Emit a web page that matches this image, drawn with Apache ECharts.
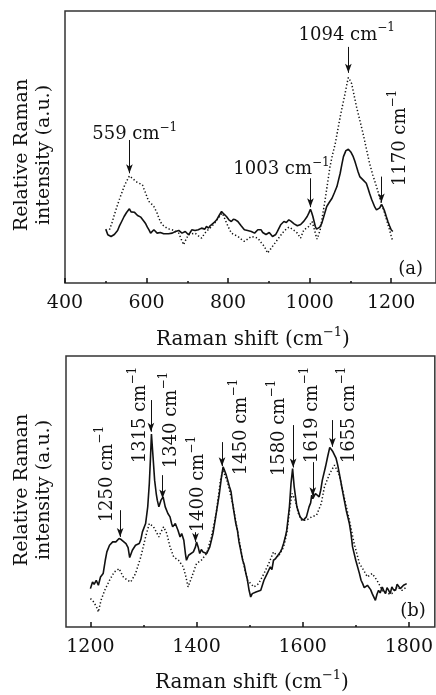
<!DOCTYPE html>
<html>
<head>
<meta charset="utf-8">
<script src="https://cdn.jsdelivr.net/npm/echarts@6/dist/echarts.min.js"></script>
<style>
  html, body { margin: 0; padding: 0; background: #fff; }
  #chart { width: 436px; height: 695px; }
</style>
</head>
<body>
<div id="chart"></div>
<script>
// ---- data (arbitrary intensity units) ----
// panel (a) 400-1300 cm-1
const aSolid = [[500,162],[505,145],[509,150],[513,140],[517,138],[521,146],[525,145],[529,158],[533,170],[539,185],[545,200],[551,212],[558,223],[562,214],[566,210],[570,213],[574,210],[578,203],[582,200],[586,198],[590,195],[594,185],[598,178],[602,168],[606,160],[610,150],[614,152],[618,160],[622,160],[626,150],[630,145],[634,152],[638,150],[642,148],[646,153],[654,148],[663,150],[671,155],[679,158],[687,150],[695,155],[699,150],[703,145],[707,152],[711,160],[719,158],[727,160],[735,165],[743,162],[747,170],[752,165],[756,172],[760,175],[766,182],[772,190],[778,203],[784,215],[790,207],[796,200],[802,190],[808,185],[813,192],[818,190],[824,185],[832,172],[840,160],[848,158],[857,155],[861,152],[865,150],[869,156],[873,160],[877,155],[881,160],[885,152],[889,150],[893,146],[897,145],[901,152],[905,150],[909,140],[913,138],[917,146],[921,155],[925,165],[929,175],[933,180],[937,185],[943,182],[949,190],[954,186],[958,182],[962,178],[966,175],[970,172],[974,170],[978,176],[982,180],[986,186],[990,190],[994,200],[998,210],[1002,222],[1005,212],[1008,200],[1011,185],[1014,170],[1017,162],[1020,158],[1025,168],[1030,180],[1036,205],[1042,230],[1048,242],[1055,255],[1061,272],[1067,290],[1071,310],[1075,330],[1079,356],[1083,380],[1089,398],[1095,402],[1101,394],[1107,380],[1111,366],[1115,350],[1119,334],[1123,320],[1127,314],[1131,310],[1135,306],[1139,300],[1143,286],[1147,270],[1152,252],[1156,240],[1160,228],[1164,220],[1168,222],[1172,226],[1176,236],[1180,228],[1184,216],[1188,200],[1192,185],[1196,172],[1200,160],[1204,155]];
const aDotted = [[509,160],[515,180],[521,205],[527,228],[533,250],[539,270],[545,290],[551,306],[558,322],[566,314],[574,305],[582,300],[590,295],[594,282],[598,270],[602,256],[606,245],[612,238],[618,230],[622,220],[626,210],[630,196],[634,185],[638,176],[642,170],[650,165],[656,162],[663,160],[671,155],[679,150],[685,132],[691,115],[697,132],[703,145],[711,148],[719,150],[727,142],[735,135],[743,150],[751,160],[760,170],[768,182],[776,195],[781,204],[786,210],[793,190],[800,170],[808,150],[816,145],[824,140],[832,132],[840,125],[848,132],[857,140],[865,138],[873,135],[881,122],[889,110],[893,100],[897,90],[903,100],[909,110],[915,120],[921,130],[927,140],[933,150],[939,158],[945,165],[950,168],[954,165],[962,158],[970,150],[974,142],[978,135],[982,148],[986,160],[992,165],[998,170],[1002,178],[1006,185],[1010,168],[1014,150],[1018,132],[1022,145],[1026,160],[1032,205],[1038,250],[1044,300],[1050,350],[1056,385],[1063,420],[1069,460],[1075,500],[1081,535],[1087,570],[1091,595],[1095,618],[1099,610],[1103,600],[1109,565],[1115,530],[1123,490],[1131,450],[1139,405],[1147,360],[1155,325],[1164,290],[1170,265],[1176,240],[1180,225],[1184,210],[1190,185],[1196,160],[1200,142],[1204,125]];

// panel (b) 1200-1800 cm-1
const bSolid = [[1200,115],[1204,135],[1207,128],[1211,140],[1215,125],[1219,150],[1224,160],[1228,200],[1231,225],[1236,245],[1242,255],[1245,250],[1248,255],[1254,265],[1258,262],[1261,265],[1267,250],[1271,238],[1274,208],[1279,230],[1285,245],[1292,250],[1295,262],[1298,285],[1304,310],[1308,360],[1311,430],[1313,500],[1315,578],[1318,510],[1321,440],[1324,400],[1326,380],[1329,360],[1333,380],[1337,390],[1341,360],[1346,340],[1350,330],[1353,310],[1355,300],[1360,310],[1365,290],[1369,270],[1372,280],[1376,260],[1379,220],[1381,200],[1385,215],[1388,210],[1394,225],[1398,240],[1400,255],[1403,240],[1406,220],[1409,232],[1412,225],[1419,220],[1425,240],[1431,280],[1437,340],[1443,400],[1447,450],[1450,480],[1453,468],[1456,455],[1462,420],[1465,405],[1468,370],[1474,310],[1477,290],[1480,255],[1487,200],[1490,185],[1493,160],[1496,140],[1499,110],[1502,90],[1505,100],[1508,95],[1512,105],[1515,100],[1521,110],[1524,125],[1527,140],[1530,135],[1533,160],[1536,170],[1539,180],[1542,172],[1545,200],[1549,205],[1552,210],[1558,225],[1561,235],[1564,250],[1567,268],[1570,290],[1575,360],[1578,430],[1581,475],[1584,420],[1589,360],[1592,345],[1595,330],[1601,320],[1604,322],[1607,330],[1612,360],[1615,372],[1617,395],[1619,385],[1621,380],[1624,400],[1626,395],[1631,390],[1634,410],[1637,440],[1643,480],[1647,510],[1651,538],[1654,532],[1657,525],[1663,505],[1666,485],[1669,460],[1676,400],[1682,350],[1688,310],[1691,280],[1694,240],[1700,200],[1707,160],[1710,140],[1713,130],[1716,118],[1719,115],[1722,125],[1725,120],[1728,112],[1731,100],[1734,95],[1737,80],[1740,98],[1743,110],[1746,102],[1750,120],[1753,108],[1756,100],[1759,118],[1762,110],[1765,100],[1768,120],[1771,112],[1775,110],[1778,128],[1781,130],[1784,115],[1787,110],[1790,125],[1793,120],[1796,130]];
const bDotted = [[1200,85],[1204,80],[1208,70],[1212,58],[1215,45],[1220,80],[1227,110],[1236,140],[1245,165],[1250,170],[1254,175],[1258,162],[1262,150],[1270,140],[1276,135],[1285,160],[1295,210],[1304,270],[1311,310],[1315,305],[1319,300],[1324,285],[1329,270],[1333,285],[1338,300],[1344,280],[1350,240],[1357,210],[1366,200],[1375,180],[1380,150],[1384,120],[1391,150],[1400,190],[1409,200],[1419,220],[1428,270],[1437,340],[1445,440],[1450,470],[1459,430],[1468,370],[1477,290],[1487,200],[1496,140],[1502,130],[1508,120],[1517,130],[1527,160],[1536,190],[1545,225],[1554,210],[1564,240],[1570,280],[1576,360],[1580,400],[1586,380],[1592,340],[1598,320],[1607,320],[1617,330],[1626,335],[1635,370],[1641,420],[1651,460],[1660,485],[1669,455],[1678,390],[1688,320],[1697,250],[1707,190],[1713,175],[1722,150],[1731,160],[1740,140],[1750,110],[1759,100],[1768,100],[1778,120],[1787,110],[1796,120]];

// tick values
const aMajorTicks = [400, 600, 800, 1000, 1200];
const aMinorTicks = [500, 700, 900, 1100];
const bMajorTicks = [1200, 1400, 1600, 1800];
const bMinorTicks = [1300, 1500, 1700];

// peak labels: name, label anchor (data coords), rotation
const aLabels = [
  { name: '559', coord: [571, 452], rot: 0 },
  { name: '1003', coord: [931, 347], rot: 0 },
  { name: '1094', coord: [1091, 752], rot: 0 },
  { name: '1170', coord: [1217, 436], rot: 90 }
];
// arrows: x, from y, to y
const aArrows = [[558, 430, 330], [1002, 315, 228], [1095, 710, 632], [1176, 320, 242]];

const bLabels = [
  { name: '1250', coord: [1228, 458] },
  { name: '1315', coord: [1290, 635] },
  { name: '1340', coord: [1348, 620] },
  { name: '1400', coord: [1400, 428] },
  { name: '1450', coord: [1480, 599] },
  { name: '1580', coord: [1552, 596] },
  { name: '1619', coord: [1614, 635] },
  { name: '1655', coord: [1684, 635] }
];
const bArrows = [[1256, 350, 270], [1314, 680, 585], [1336, 455, 385], [1398, 284, 255],
  [1448, 554, 482], [1582, 605, 478], [1619, 494, 392], [1656, 620, 540]];

const FONT = 'DejaVu Serif';
const INK = '#111';

const rich = {
  n: { fontFamily: FONT, fontSize: 18, color: INK, lineHeight: 22, verticalAlign: 'bottom' },
  s: { fontFamily: FONT, fontSize: 12, color: INK, lineHeight: 12, verticalAlign: 'top' }
};

function peakPoints(list, letter, letterCoord) {
  const pts = list.map(d => ({
    name: d.name,
    coord: d.coord,
    label: { rotate: d.rot === undefined ? 90 : d.rot }
  }));
  pts.push({ name: letter, coord: letterCoord, label: { rotate: 0, formatter: '{n|' + letter + '}' } });
  return {
    symbol: 'circle',
    symbolSize: 0,
    silent: true,
    label: {
      show: true,
      position: 'inside',
      formatter: p => '{n|' + p.name + ' cm}{s|−1}',
      rich: rich
    },
    data: pts
  };
}

function arrowLines(list) {
  return {
    silent: true,
    symbol: ['none', 'arrow'],
    symbolSize: [5, 9],
    lineStyle: { color: INK, width: 1, type: 'solid' },
    label: { show: false },
    emphasis: { disabled: true },
    data: list.map(a => [{ coord: [a[0], a[1]] }, { coord: [a[0], a[2]] }])
  };
}

function xAxes(gridIndex, min, max, major, minor) {
  const base = { type: 'value', gridIndex: gridIndex, min: min, max: max, position: 'bottom',
    splitLine: { show: false }, axisLine: { show: false } };
  return [
    Object.assign({}, base, {
      axisTick: { show: true, inside: true, length: 5, customValues: major, lineStyle: { color: INK, width: 1.5 } },
      axisLabel: { show: true, customValues: major, margin: 11, fontFamily: FONT, fontSize: 19, color: INK,
        formatter: v => String(v) }
    }),
    Object.assign({}, base, {
      axisTick: { show: true, inside: true, length: 2, customValues: minor, lineStyle: { color: INK, width: 1.5 } },
      axisLabel: { show: false }
    })
  ];
}

function yAxis(gridIndex, max) {
  return { type: 'value', gridIndex: gridIndex, min: 0, max: max, show: false };
}

const chart = echarts.init(document.getElementById('chart'), null, { renderer: 'canvas' });

const lineSolid = { color: INK, width: 1.6, type: 'solid' };
const lineDotted = { color: INK, width: 1.5, type: [1.3, 2.2] };

const titleStyle = {
  fontFamily: FONT, fontSize: 19, fill: INK
};
const titleRich = {
  n: { fontFamily: FONT, fontSize: 20, fill: INK, lineHeight: 24, verticalAlign: 'bottom' },
  s: { fontFamily: FONT, fontSize: 13, fill: INK, lineHeight: 13, verticalAlign: 'top' }
};

chart.setOption({
  animation: false,
  backgroundColor: '#fff',
  grid: [
    { left: 65, top: 11, right: -4, height: 272, show: true, borderColor: '#333', borderWidth: 1.5, containLabel: false },
    { left: 66, top: 356, right: -4, height: 271, show: true, borderColor: '#333', borderWidth: 1.5, containLabel: false }
  ],
  xAxis: [].concat(
    xAxes(0, 400, 1310, aMajorTicks, aMinorTicks),
    xAxes(1, 1154, 1849, bMajorTicks, bMinorTicks)
  ),
  yAxis: [yAxis(0, 818), yAxis(1, 812)],
  series: [
    { type: 'line', xAxisIndex: 0, yAxisIndex: 0, data: aDotted, showSymbol: false, lineStyle: lineDotted, silent: true },
    { type: 'line', xAxisIndex: 0, yAxisIndex: 0, data: aSolid, showSymbol: false, lineStyle: lineSolid, silent: true,
      markLine: arrowLines(aArrows), markPoint: peakPoints(aLabels, '(a)', [1248, 46]) },
    { type: 'line', xAxisIndex: 2, yAxisIndex: 1, data: bDotted, showSymbol: false, lineStyle: lineDotted, silent: true },
    { type: 'line', xAxisIndex: 2, yAxisIndex: 1, data: bSolid, showSymbol: false, lineStyle: lineSolid, silent: true,
      markLine: arrowLines(bArrows), markPoint: peakPoints(bLabels, '(b)', [1808, 53]) }
  ],
  graphic: [
    { type: 'text', x: 33, y: 155, rotation: Math.PI / 2,
      style: Object.assign({ text: 'Relative Raman\nintensity (a.u.)', lineHeight: 22, align: 'center', verticalAlign: 'middle' }, titleStyle) },
    { type: 'text', x: 33, y: 490, rotation: Math.PI / 2,
      style: Object.assign({ text: 'Relative Raman\nintensity (a.u.)', lineHeight: 22, align: 'center', verticalAlign: 'middle' }, titleStyle) },
    { type: 'text', x: 253, y: 338,
      style: { text: '{n|Raman shift (cm}{s|−1}{n|)}', align: 'center', verticalAlign: 'middle', rich: titleRich } },
    { type: 'text', x: 252, y: 681,
      style: { text: '{n|Raman shift (cm}{s|−1}{n|)}', align: 'center', verticalAlign: 'middle', rich: titleRich } }
  ]
});
</script>
</body>
</html>
